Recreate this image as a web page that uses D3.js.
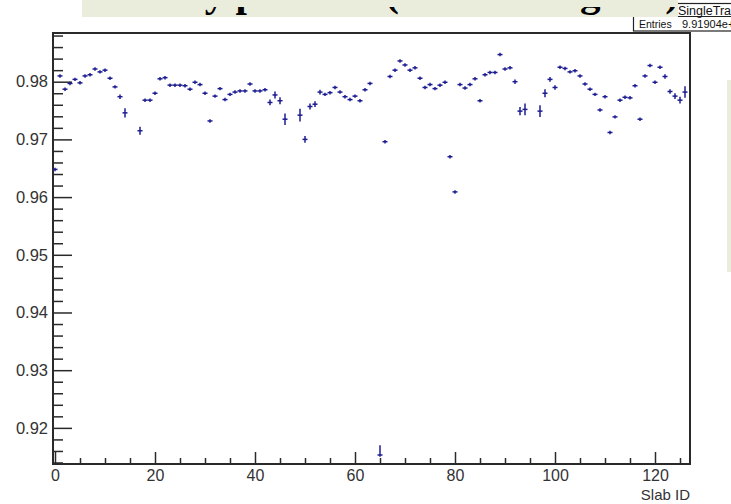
<!DOCTYPE html>
<html>
<head>
<meta charset="utf-8">
<script src="https://cdn.jsdelivr.net/npm/d3@7"></script>
<style>
  html, body { margin: 0; padding: 0; background: #fff; overflow: hidden; }
  text { font-family: "Liberation Sans", Arial, sans-serif; }
</style>
</head>
<body>
<svg id="chart" width="731" height="504"></svg>
<script>
// Efficiency per slab, slabs 0..126 (null = no entry)
const efficiency = [
  0.9648, 0.9810, 0.9787, 0.9797, 0.9804, 0.9798, 0.9810, 0.9812, 0.9822, 0.9817,
  0.9820, 0.9806, 0.9791, 0.9774, 0.9746, null,   null,   0.9715, 0.9768, 0.9768,
  0.9780, 0.9805, 0.9807, 0.9794, 0.9794, 0.9794, 0.9793, 0.9787, 0.9799, 0.9795,
  0.9780, 0.9732, 0.9775, 0.9788, 0.9769, 0.9778, 0.9782, 0.9784, 0.9784, 0.9796,
  0.9784, 0.9784, 0.9786, 0.9764, 0.9777, 0.9767, 0.9735, null,   null,   0.9742,
  0.9700, 0.9757, 0.9761, 0.9782, 0.9778, 0.9781, 0.9790, 0.9782, 0.9774, 0.9769,
  0.9775, 0.9767, 0.9786, 0.9797, null,   0.9153, 0.9696, 0.9809, 0.9820, 0.9836,
  0.9829, 0.9820, 0.9824, 0.9806, 0.9790, 0.9795, 0.9788, 0.9794, 0.9799, 0.9670,
  0.9609, 0.9795, 0.9789, 0.9795, 0.9805, 0.9767, 0.9812, 0.9816, 0.9816, 0.9847,
  0.9822, 0.9824, 0.9800, 0.9749, 0.9752, null,   null,   0.9749, 0.9780, 0.9804,
  0.9790, 0.9825, 0.9823, 0.9817, 0.9819, 0.9810, 0.9796, 0.9787, 0.9778, 0.9751,
  0.9774, 0.9712, 0.9739, 0.9768, 0.9773, 0.9772, 0.9793, 0.9735, 0.9810, 0.9828,
  0.9799, 0.9825, 0.9809, 0.9783, 0.9775, 0.9768, 0.9782
];

// Lower / upper uncertainties on each efficiency
const errLow = [
  0.0003, 0.0003, 0.0003, 0.0003, 0.0003, 0.0003, 0.0003, 0.0003, 0.0003, 0.0003,
  0.0003, 0.0003, 0.0003, 0.0004, 0.0008, 0, 0, 0.0007, 0.0003, 0.0003,
  0.0003, 0.0003, 0.0003, 0.0003, 0.0003, 0.0003, 0.0003, 0.0003, 0.0003, 0.0003,
  0.0003, 0.0003, 0.0003, 0.0003, 0.0003, 0.0003, 0.0003, 0.0003, 0.0003, 0.0003,
  0.0003, 0.0003, 0.0003, 0.0005, 0.0006, 0.0006, 0.0010, 0, 0, 0.0011,
  0.0006, 0.0005, 0.0005, 0.0004, 0.0003, 0.0003, 0.0003, 0.0003, 0.0003, 0.0003,
  0.0003, 0.0003, 0.0003, 0.0003, 0, 0.0003, 0.0003, 0.0003, 0.0003, 0.0003,
  0.0003, 0.0003, 0.0003, 0.0003, 0.0003, 0.0003, 0.0003, 0.0003, 0.0003, 0.0003,
  0.0003, 0.0003, 0.0003, 0.0003, 0.0003, 0.0003, 0.0003, 0.0003, 0.0003, 0.0003,
  0.0003, 0.0003, 0.0004, 0.0007, 0.0010, 0, 0, 0.0010, 0.0007, 0.0004,
  0.0004, 0.0003, 0.0003, 0.0003, 0.0003, 0.0003, 0.0003, 0.0003, 0.0003, 0.0003,
  0.0003, 0.0003, 0.0003, 0.0003, 0.0003, 0.0003, 0.0003, 0.0003, 0.0003, 0.0003,
  0.0003, 0.0003, 0.0004, 0.0004, 0.0005, 0.0006, 0.0010
];
const errHigh = [
  0.0003, 0.0003, 0.0003, 0.0003, 0.0003, 0.0003, 0.0003, 0.0003, 0.0003, 0.0003,
  0.0003, 0.0003, 0.0003, 0.0004, 0.0008, 0, 0, 0.0007, 0.0003, 0.0003,
  0.0003, 0.0003, 0.0003, 0.0003, 0.0003, 0.0003, 0.0003, 0.0003, 0.0003, 0.0003,
  0.0003, 0.0003, 0.0003, 0.0003, 0.0003, 0.0003, 0.0003, 0.0003, 0.0003, 0.0003,
  0.0003, 0.0003, 0.0003, 0.0005, 0.0006, 0.0006, 0.0010, 0, 0, 0.0011,
  0.0006, 0.0005, 0.0005, 0.0004, 0.0003, 0.0003, 0.0003, 0.0003, 0.0003, 0.0003,
  0.0003, 0.0003, 0.0003, 0.0003, 0, 0.0017, 0.0003, 0.0003, 0.0003, 0.0003,
  0.0003, 0.0003, 0.0003, 0.0003, 0.0003, 0.0003, 0.0003, 0.0003, 0.0003, 0.0003,
  0.0003, 0.0003, 0.0003, 0.0003, 0.0003, 0.0003, 0.0003, 0.0003, 0.0003, 0.0003,
  0.0003, 0.0003, 0.0004, 0.0007, 0.0010, 0, 0, 0.0010, 0.0007, 0.0004,
  0.0004, 0.0003, 0.0003, 0.0003, 0.0003, 0.0003, 0.0003, 0.0003, 0.0003, 0.0003,
  0.0003, 0.0003, 0.0003, 0.0003, 0.0003, 0.0003, 0.0003, 0.0003, 0.0003, 0.0003,
  0.0003, 0.0003, 0.0004, 0.0004, 0.0005, 0.0006, 0.0010
];

const slabIds = d3.range(efficiency.length);
const xMajorTicks = [0, 20, 40, 60, 80, 100, 120];
const xMinorTicks = [5, 10, 15, 25, 30, 35, 45, 50, 55, 65, 70, 75, 85, 90, 95, 105, 110, 115, 125];
const yMajorTicks = [0.92, 0.93, 0.94, 0.95, 0.96, 0.97, 0.98];
const yMajorLabels = ["0.92", "0.93", "0.94", "0.95", "0.96", "0.97", "0.98"];
const yMinorTicks = [0.914, 0.916, 0.918, 0.922, 0.924, 0.926, 0.928, 0.932, 0.934, 0.936, 0.938,
  0.942, 0.944, 0.946, 0.948, 0.952, 0.954, 0.956, 0.958, 0.962, 0.964, 0.966, 0.968,
  0.972, 0.974, 0.976, 0.978, 0.982, 0.984, 0.986, 0.988];

const titleText = "Efficiency per slab (with timing cut)";
const xTitle = "Slab ID";
const statsName = "SingleTrack";
const statsEntries = ["Entries", "9.91904e+06"];

const frame = { left: 53, right: 690, top: 33, bottom: 464 };
const markColor = "#1d1d92";
const axisColor = "#2a2a2a";

const svg = d3.select("#chart");

const x = d3.scaleLinear().domain([-0.4, 127]).range([frame.left, frame.right]);
const y = d3.scaleLinear().domain([0.91374, 0.98844]).range([frame.bottom, frame.top]);

// stats box (top right, running off the canvas)
const stats = svg.append("g");
stats.append("rect").attr("x", 633.5).attr("y", 3.5).attr("width", 120).attr("height", 27.5)
  .attr("fill", "#fff").attr("stroke", "#222").attr("stroke-width", 1.2);
stats.append("line").attr("x1", 633.5).attr("x2", 731).attr("y1", 16.5).attr("y2", 16.5)
  .attr("stroke", "#222").attr("stroke-width", 1);
stats.append("text").attr("x", 678).attr("y", 14.5).attr("font-size", 12.5).attr("fill", "#111").text(statsName);
stats.append("text").attr("x", 639).attr("y", 28).attr("font-size", 10.5).attr("fill", "#111").text(statsEntries[0]);
stats.append("text").attr("x", 682).attr("y", 28).attr("font-size", 11).attr("fill", "#111").text(statsEntries[1]);

// title band; the title runs off the top edge so only its descenders show
const band = { x: 82, y: 0, w: 596, h: 17 };
svg.append("rect").attr("x", band.x).attr("y", band.y).attr("width", band.w).attr("height", band.h)
  .attr("fill", "#eaecdc");
svg.append("clipPath").attr("id", "titleClip").append("rect")
  .attr("x", band.x).attr("y", 7).attr("width", band.w).attr("height", band.h - 7);
svg.append("text").attr("x", 50).attr("y", 6)
  .attr("clip-path", "url(#titleClip)")
  .style("font-family", "'Liberation Serif', 'Times New Roman', serif")
  .attr("font-weight", "bold").attr("font-size", 41).attr("fill", "#000").text(titleText);

// side strip on the right edge
svg.append("rect").attr("x", 727).attr("y", 80).attr("width", 4).attr("height", 192).attr("fill", "#eaecdc");

// x axis
const gx = svg.append("g").attr("transform", `translate(0,${frame.bottom})`);
gx.call(d3.axisBottom(x).tickValues(xMinorTicks).tickSize(-6).tickFormat(""));
gx.select(".domain").remove();
const gxMajor = svg.append("g").attr("transform", `translate(0,${frame.bottom})`)
  .call(d3.axisBottom(x).tickValues(xMajorTicks).tickSize(-12).tickPadding(6).tickFormat(d3.format("d")));
gxMajor.select(".domain").remove();
gxMajor.selectAll("text").attr("font-size", 16).attr("fill", "#333")
  .style("font-family", "'Liberation Sans', Arial, sans-serif");

// y axis
const gy = svg.append("g").attr("transform", `translate(${frame.left},0)`);
gy.call(d3.axisLeft(y).tickValues(yMinorTicks).tickSize(-10).tickFormat(""));
gy.select(".domain").remove();
const gyMajor = svg.append("g").attr("transform", `translate(${frame.left},0)`)
  .call(d3.axisLeft(y).tickValues(yMajorTicks).tickSize(-19).tickPadding(5)
    .tickFormat((d, i) => yMajorLabels[i]));
gyMajor.select(".domain").remove();
gyMajor.selectAll("text").attr("font-size", 16.5).attr("fill", "#333")
  .style("font-family", "'Liberation Sans', Arial, sans-serif");

svg.selectAll(".tick line").attr("stroke", axisColor).attr("stroke-width", 1.5);

// frame
svg.append("rect").attr("x", frame.left).attr("y", frame.top)
  .attr("width", frame.right - frame.left).attr("height", frame.bottom - frame.top)
  .attr("fill", "none").attr("stroke", axisColor).attr("stroke-width", 2);

// axis title
svg.append("text").attr("x", frame.right).attr("y", 500).attr("text-anchor", "end")
  .attr("font-size", 15).attr("fill", "#333").text(xTitle);

// data points with error bars
const pts = slabIds.filter(i => efficiency[i] !== null).map(i => ({
  id: i, v: efficiency[i], lo: errLow[i], hi: errHigh[i]
}));
svg.append("clipPath").attr("id", "plotClip").append("rect")
  .attr("x", frame.left).attr("y", frame.top)
  .attr("width", frame.right - frame.left).attr("height", frame.bottom - frame.top);
const gp = svg.append("g").attr("clip-path", "url(#plotClip)");
const pt = gp.selectAll("g.pt").data(pts).join("g").attr("class", "pt");
pt.append("line")
  .attr("x1", d => x(d.id - 0.5)).attr("x2", d => x(d.id + 0.5))
  .attr("y1", d => y(d.v)).attr("y2", d => y(d.v))
  .attr("stroke", markColor).attr("stroke-width", 1.5);
pt.append("line")
  .attr("x1", d => x(d.id)).attr("x2", d => x(d.id))
  .attr("y1", d => y(d.v - d.lo)).attr("y2", d => y(d.v + d.hi))
  .attr("stroke", markColor).attr("stroke-width", 1.5);
</script>
</body>
</html>
